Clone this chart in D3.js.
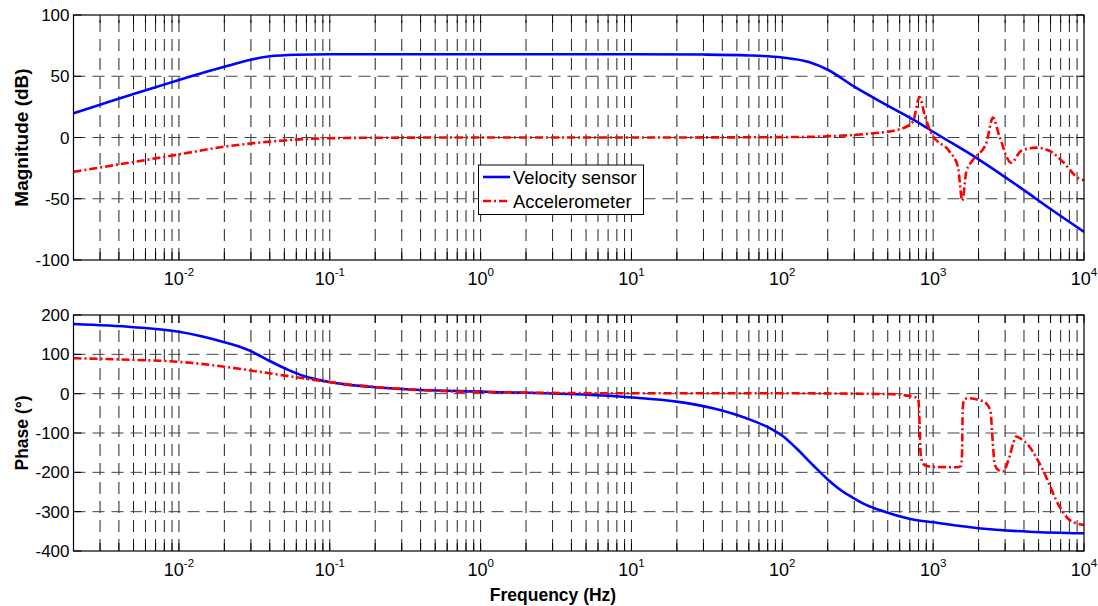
<!DOCTYPE html>
<html>
<head>
<meta charset="utf-8">
<script src="https://cdn.jsdelivr.net/npm/d3@7"></script>
<style>
  html, body { margin: 0; padding: 0; background: #fff; }
  svg { display: block; font-family: Arial, "Liberation Sans", sans-serif; }
</style>
</head>
<body>
<svg id="chart" width="1098" height="606"></svg>
<script>
// ---------------- DATA ----------------
// Magnitude, velocity sensor (dB)
const velMagFreq = [0.002, 0.003, 0.005, 0.007, 0.01, 0.015, 0.02, 0.03, 0.04, 0.06, 0.1, 1, 10, 30, 60, 100, 150, 200, 300, 500, 813, 1000, 2000, 4000, 5900, 10000];
const velMag     = [19.8, 26.8, 35.5, 41.0, 47.0, 53.5, 57.8, 63.5, 66.3, 67.6, 68, 68, 68, 67.7, 67, 65.3, 61.6, 55.3, 41.5, 26, 11.6, 4.7, -17.8, -43, -57.8, -77];

// Magnitude, accelerometer (dB)
const accMagFreq = [0.002, 0.005, 0.01, 0.02, 0.04, 0.07, 0.1, 0.2, 1, 10, 100, 200, 292, 400, 600, 734, 813, 878, 972, 1285, 1459, 1560, 1659, 1834, 2249, 2488, 2754, 3294, 3836, 4822, 5900, 7230, 9200, 10000];
const accMag     = [-28, -20, -13.8, -7.5, -3.4, -1.2, -0.6, -0.2, 0, 0, 0.3, 1, 2, 3.4, 6.7, 12.9, 33, 18.4, 3.4, -11.6, -23.8, -51.6, -27.9, -18.4, -4.7, 16.2, 0.7, -20.6, -10.8, -8.3, -10.8, -19.8, -33.3, -35];

// Phase, velocity sensor (deg)
const velPhaseFreq = [0.002, 0.005, 0.01, 0.02, 0.025, 0.03, 0.035, 0.04, 0.052, 0.067, 0.08, 0.0955, 0.13, 0.185, 0.4, 1.1, 9.6, 19.9, 34.7, 57.8, 86.7, 100, 121, 160, 200, 250, 292, 350, 442, 734, 1000, 2000, 4350, 10000];
const velPhase     = [177, 169, 157.5, 131, 120, 108, 95, 83, 62, 45, 37, 31, 23, 17.5, 9.3, 5, -9.2, -20.3, -37, -62.5, -92, -107, -135, -182, -218, -248, -264, -281, -296, -320, -327, -342, -351, -355];

// Phase, accelerometer (deg)
const accPhaseFreq = [0.002, 0.005, 0.01, 0.02, 0.04, 0.067, 0.0955, 0.185, 0.4, 1.1, 10, 100, 500, 734, 773, 800, 813, 825, 855, 900, 1000, 1450, 1530, 1555, 1570, 1600, 1700, 2000, 2249, 2400, 2480, 2560, 2700, 2900, 3208, 3400, 3553, 3750, 4350, 5333, 6883, 8016, 10000];
const accPhase     = [90, 86, 81, 68.6, 51.7, 39, 30.4, 18, 9, 4, 1, 1, -1, -7.6, -10, -18, -80, -150, -177, -184, -186, -187, -184, -150, -40, -16, -11.5, -16, -25, -45, -120, -180, -194, -198, -160, -125, -109, -113, -135, -194, -287, -321, -334];

const magTicks   = [-100, -50, 0, 50, 100];
const phaseTicks = [-400, -300, -200, -100, 0, 100, 200];
const decadeExps = [-2, -1, 0, 1, 2, 3, 4];
const seriesNames = ["Velocity sensor", "Accelerometer"];
const xLabel = "Frequency (Hz)";
const magLabel = "Magnitude (dB)";
const phaseLabel = "Phase (°)";

// ---------------- LAYOUT ----------------
const svg = d3.select("#chart");
const L = 73.5, R = 1084;
const x = d3.scaleLog().domain([0.002, 10000]).range([L, R]);
const yMag = d3.scaleLinear().domain([-100, 100]).range([260, 15]);
const yPh  = d3.scaleLinear().domain([-400, 200]).range([551, 315]);

const BLUE = "#0000ff", RED = "#ff0000";
const gridDash = "12,7";

// minor+major log positions
const gridFreqs = [];
for (let e = -3; e <= 3; e++) {
  for (let m = 1; m <= 9; m++) {
    const f = m * Math.pow(10, e);
    if (f >= 0.002 - 1e-12 && f <= 10000 + 1e-9) gridFreqs.push(+f.toPrecision(6));
  }
}
gridFreqs.push(10000);

function drawPanel(y, yTicks, label, labelSize, series) {
  const T = y.range()[1], B = y.range()[0];
  const g = svg.append("g");

  g.selectAll(".vg").data(gridFreqs.filter(f => f > 0.002 && f < 10000)).enter()
    .append("line")
    .attr("x1", d => x(d)).attr("x2", d => x(d))
    .attr("y1", B).attr("y2", T)
    .attr("stroke", "#222").attr("stroke-width", 1)
    .attr("stroke-dasharray", gridDash);

  g.selectAll(".hg").data(yTicks.slice(1, -1)).enter()
    .append("line")
    .attr("x1", L).attr("x2", R)
    .attr("y1", d => y(d)).attr("y2", d => y(d))
    .attr("stroke", "#444").attr("stroke-width", 1)
    .attr("stroke-dasharray", gridDash);

  const tl = 8;
  gridFreqs.forEach(f => {
    g.append("line").attr("x1", x(f)).attr("x2", x(f)).attr("y1", B).attr("y2", B - tl).attr("stroke", "#000");
    g.append("line").attr("x1", x(f)).attr("x2", x(f)).attr("y1", T).attr("y2", T + tl).attr("stroke", "#000");
  });
  yTicks.forEach(v => {
    g.append("line").attr("x1", L).attr("x2", L + tl).attr("y1", y(v)).attr("y2", y(v)).attr("stroke", "#000");
    g.append("line").attr("x1", R).attr("x2", R - tl).attr("y1", y(v)).attr("y2", y(v)).attr("stroke", "#000");
  });

  series.forEach(s => {
    const pts = s.f.map((f, i) => [x(f), y(s.v[i])]);
    g.append("path")
      .attr("d", d3.line().curve(d3.curveMonotoneX)(pts))
      .attr("fill", "none")
      .attr("stroke", s.color)
      .attr("stroke-width", 2.6)
      .attr("stroke-linejoin", "round")
      .attr("stroke-dasharray", s.dash || null);
  });

  g.append("rect").attr("x", L).attr("y", T).attr("width", R - L).attr("height", B - T)
    .attr("fill", "none").attr("stroke", "#000").attr("stroke-width", 1.2);

  g.selectAll(".yl").data(yTicks).enter().append("text")
    .attr("x", L - 4).attr("y", d => y(d)).attr("dy", "0.36em")
    .attr("text-anchor", "end").attr("font-size", 17).attr("fill", "#000")
    .text(d => d);

  decadeExps.forEach(e => {
    const t = g.append("text")
      .attr("x", x(Math.pow(10, e))).attr("y", B + 25)
      .attr("text-anchor", "middle").attr("font-size", 18).attr("fill", "#000");
    t.append("tspan").text("10");
    t.append("tspan").attr("dy", -9).attr("font-size", 11.5).text(e);
  });

  g.append("text")
    .attr("transform", `translate(28,${(T + B) / 2}) rotate(-90)`)
    .attr("text-anchor", "middle").attr("font-size", labelSize).attr("font-weight", "bold")
    .attr("fill", "#000")
    .text(label);
  return g;
}

const dashDot = "8,3,2,3";
drawPanel(yMag, magTicks, magLabel, 19, [
  { f: velMagFreq, v: velMag, color: BLUE },
  { f: accMagFreq, v: accMag, color: RED, dash: dashDot }
]);
drawPanel(yPh, phaseTicks, phaseLabel, 17.5, [
  { f: velPhaseFreq, v: velPhase, color: BLUE },
  { f: accPhaseFreq, v: accPhase, color: RED, dash: dashDot }
]);

svg.append("text").attr("x", 553).attr("y", 601)
  .attr("text-anchor", "middle").attr("font-size", 17.5).attr("font-weight", "bold")
  .text(xLabel);

const lg = svg.append("g");
lg.append("rect").attr("x", 478.5).attr("y", 165).attr("width", 165).attr("height", 49.5)
  .attr("fill", "#fff").attr("stroke", "#000").attr("stroke-width", 1);
const legendItems = [
  { name: seriesNames[0], color: BLUE, dash: null, y: 177 },
  { name: seriesNames[1], color: RED, dash: dashDot, y: 201 }
];
legendItems.forEach(it => {
  lg.append("line").attr("x1", 483).attr("x2", 510).attr("y1", it.y).attr("y2", it.y)
    .attr("stroke", it.color).attr("stroke-width", 2.6).attr("stroke-dasharray", it.dash);
  lg.append("text").attr("x", 513).attr("y", it.y).attr("dy", "0.36em")
    .attr("font-size", 18.4).attr("fill", "#000").text(it.name);
});
</script>
</body>
</html>
